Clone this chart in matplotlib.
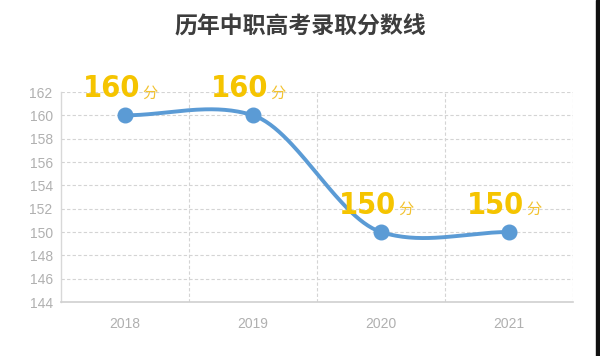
import numpy as np
import matplotlib
matplotlib.use("Agg")
import matplotlib.pyplot as plt
from matplotlib.patches import Rectangle
from matplotlib import font_manager as fm

years = ["2018", "2019", "2020", "2021"]
scores = [160, 160, 150, 150]
y_ticks = [144, 146, 148, 150, 152, 154, 156, 158, 160, 162]
title = "历年中职高考录取分数线"
unit = "分"

plt.rcParams['font.family'] = ['Noto Sans CJK SC', 'DejaVu Sans']

fig = plt.figure(figsize=(6.0, 3.56), dpi=100)
fig.patch.set_facecolor("white")
ax = fig.add_axes([61/600, 1-302/356, 512/600, 210/356])

x = np.arange(len(years))
y = np.array(scores, dtype=float)

tension = 0.7
m = np.zeros_like(y)
for i in range(1, len(y)-1):
    m[i] = tension * (y[i+1] - y[i-1]) / 2.0
xs_all, ys_all = [], []
for i in range(len(y)-1):
    t = np.linspace(0, 1, 60)
    h00 = 2*t**3 - 3*t**2 + 1
    h10 = t**3 - 2*t**2 + t
    h01 = -2*t**3 + 3*t**2
    h11 = t**3 - t**2
    ys_all.append(h00*y[i] + h10*m[i] + h01*y[i+1] + h11*m[i+1])
    xs_all.append(x[i] + t)
xs_all = np.concatenate(xs_all)
ys_all = np.concatenate(ys_all)

line_color = "#5B9BD5"
ax.plot(xs_all, ys_all, color=line_color, lw=2.8, solid_capstyle="round", zorder=3)
ax.plot(x, y, "o", color=line_color, ms=10.5, zorder=4)

ax.set_xlim(-0.5, len(years)-0.5)
ax.set_ylim(144, 162)
ax.set_yticks(y_ticks)
ax.set_xticks(x)
ax.set_xticklabels(years)

grid_c = "#d4d4d4"
for yt in y_ticks[1:]:
    ax.axhline(yt, color=grid_c, lw=0.8, ls=(0, (3, 2)), zorder=1)
for xb in np.arange(0.5, len(years), 1.0):
    ax.axvline(xb, color=grid_c, lw=0.8, ls=(0, (3, 2)), zorder=1)

for s in ["top", "right"]:
    ax.spines[s].set_visible(False)
ax.spines["left"].set_color("#d8d8d8")
ax.spines["bottom"].set_color("#d0d0d0")
ax.spines["left"].set_linewidth(1.0)
ax.spines["bottom"].set_linewidth(1.2)

ax.tick_params(axis="both", length=0, colors="#b0b0b0", labelsize=10)
ax.tick_params(axis="x", pad=11)
ax.tick_params(axis="y", pad=6)
for lab in ax.get_xticklabels() + ax.get_yticklabels():
    lab.set_family(["Liberation Sans", "DejaVu Sans"])

num_font = fm.FontProperties(family="DejaVu Sans", weight="bold",
                             stretch="condensed", size=22)
num_color = "#F5C400"
for xi, yi in zip(x, y):
    ax.annotate(f"{int(yi)}", (xi, yi), xytext=(15, 18), textcoords="offset pixels",
                ha="right", va="baseline", fontproperties=num_font,
                color=num_color, zorder=5)
    ax.annotate(unit, (xi, yi), xytext=(17, 18), textcoords="offset pixels",
                ha="left", va="baseline", fontsize=11, color="#F2C230",
                family=["Noto Sans CJK SC"], zorder=5)

fig.text(0.5, 1-27/356, title, ha="center", va="center", fontsize=16.5,
         fontweight="bold", color="#3d3d3d")

fig.patches.append(Rectangle((596/600, 0), 4/600, 1, transform=fig.transFigure,
                             color="#111111", zorder=10))

fig.savefig("out.png", dpi=100, facecolor="white")
